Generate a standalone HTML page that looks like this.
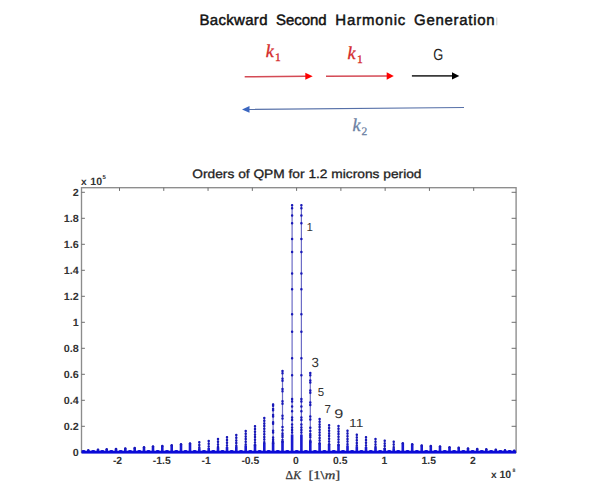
<!DOCTYPE html>
<html><head><meta charset="utf-8">
<style>
html,body{margin:0;padding:0;background:#fff;width:600px;height:491px;overflow:hidden;}
svg{display:block;}
text{font-family:"Liberation Sans",sans-serif;text-rendering:geometricPrecision;}
.sf,.sf text,text.sf{font-family:"Liberation Serif",serif;}
</style></head>
<body>
<svg width="600" height="491" viewBox="0 0 600 491">
<rect width="600" height="491" fill="#fff"/>
<!-- top diagram title -->
<g fill="#111" stroke="#111" stroke-width="0.45" font-size="15">
<text x="199.5" y="24.9" textLength="68">Backward</text>
<text x="276" y="24.9" textLength="50.5">Second</text>
<text x="335.3" y="24.9" textLength="70">Harmonic</text>
<text x="414.1" y="24.9" textLength="80.5">Generation</text>
</g>
<line x1="496.8" y1="17.5" x2="496.8" y2="25.3" stroke="#bbb" stroke-width="0.8"/>
<!-- k1 labels -->
<g fill="#d42a2a" stroke="#d42a2a" stroke-width="0.35">
<text class="sf" font-style="italic" font-size="18" x="265.8" y="57">k</text>
<text class="sf" font-size="11.5" x="275" y="60.8">1</text>
<text class="sf" font-style="italic" font-size="18" x="347.6" y="58.7">k</text>
<text class="sf" font-size="11.5" x="357" y="62.7">1</text>
</g>
<text x="433.2" y="59.5" font-size="16" fill="#222" textLength="10" lengthAdjust="spacingAndGlyphs">G</text>
<!-- arrows -->
<line x1="244.7" y1="76.8" x2="306" y2="76.2" stroke="#d44a55" stroke-width="1.5"/>
<polygon points="305.3,72.8 312.7,76.2 305.3,79.7" fill="#f00"/>
<line x1="326" y1="76.2" x2="387.3" y2="76" stroke="#d44a55" stroke-width="1.5"/>
<polygon points="386.7,72.3 393.8,76 386.7,79.7" fill="#f00"/>
<line x1="411.9" y1="75.9" x2="452.5" y2="75.9" stroke="#3a3a3a" stroke-width="1.6"/>
<polygon points="452,72.3 459.3,75.9 452,79.5" fill="#000"/>
<line x1="464" y1="107.5" x2="249" y2="109.4" stroke="#5670a8" stroke-width="1.1"/>
<polygon points="242,109.4 249.5,106 249.5,112.8" fill="#3a66c0"/>
<g fill="#6b7fa3" stroke="#6b7fa3" stroke-width="0.3">
<text class="sf" font-style="italic" font-size="18" x="352.4" y="131">k</text>
<text class="sf" font-size="11.5" x="361.6" y="135.2">2</text>
</g>
<!-- chart title -->
<text x="192.3" y="177.6" font-size="12.2" fill="#222" stroke="#222" stroke-width="0.3" textLength="229.2" lengthAdjust="spacingAndGlyphs">Orders of QPM for 1.2 microns period</text>
<!-- axes box -->
<g stroke="#8c8c8c" stroke-width="1.35" fill="none">
<rect x="81.5" y="187.7" width="434.6" height="264.6"/>
</g>
<path d="M81.5 452.30h3.4M516.2 452.30h-4.6M81.5 426.30h3.4M516.2 426.30h-4.6M81.5 400.30h3.4M516.2 400.30h-4.6M81.5 374.30h3.4M516.2 374.30h-4.6M81.5 348.30h3.4M516.2 348.30h-4.6M81.5 322.30h3.4M516.2 322.30h-4.6M81.5 296.30h3.4M516.2 296.30h-4.6M81.5 270.30h3.4M516.2 270.30h-4.6M81.5 244.30h3.4M516.2 244.30h-4.6M81.5 218.30h3.4M516.2 218.30h-4.6M81.5 192.30h3.4M516.2 192.30h-4.6M119.50 187.7v3.2M163.78 187.7v3.2M208.05 187.7v3.2M252.33 187.7v3.2M296.60 187.7v3.2M340.88 187.7v3.2M385.15 187.7v3.2M429.43 187.7v3.2M473.70 187.7v3.2" stroke="#6e6e6e" stroke-width="1" fill="none"/>
<path d="M88.3 449.2V451M98.0 448.7V451M106.7 448.3V451M116.0 448.0V451M125.3 447.5V451M134.7 447.0V451M144.0 446.3V451M153.0 445.5V451M162.3 445.0V451M171.7 444.2V451M181.0 443.3V451M190.0 442.5V451M199.3 441.2V451M208.7 440.0V451M218.0 438.0V451M227.0 436.3V451M236.3 434.0V451M245.7 430.0V451M255.0 425.3V451M264.3 417.0V451M273.1 403.5V451M282.5 370.0V451M292.1 204.6V451M301.4 204.6V451M310.3 372.0V451M319.6 418.0V451M329.1 424.3V451M338.5 425.0V451M347.5 429.8V451M356.8 433.8V451M366.0 436.3V451M375.5 438.0V451M384.7 439.7V451M393.7 440.8V451M402.8 442.2V451M412.2 443.3V451M421.7 444.5V451M430.8 445.0V451M440.0 445.5V451M449.5 446.3V451M458.7 446.7V451M468.0 447.5V451M477.2 448.0V451M486.3 448.3V451M495.8 448.7V451M505.0 449.2V451M514.2 449.7V451" stroke="#6c6cc6" stroke-width="1.2" fill="none"/>
<path d="M88.3 450.0V451M98.0 449.5V451M106.7 449.1V451M116.0 448.8V451M125.3 448.3V451M134.7 447.8V451M144.0 447.1V451M153.0 446.3V451M162.3 445.8V451M171.7 445.0V451M181.0 444.1V451M190.0 443.3V451M199.3 448.3V451M208.7 448.0V451M218.0 447.5V451M227.0 447.1V451M236.3 446.5V451M245.7 445.5V451M255.0 444.3V451M264.3 442.9V451M273.1 442.4V451M282.5 441.0V451M292.1 434.4V451M301.4 434.4V451M310.3 441.1V451M319.6 443.0V451M329.1 444.1V451M338.5 444.2V451M347.5 445.4V451M356.8 446.4V451M366.0 447.1V451M375.5 447.5V451M384.7 447.9V451M393.7 448.2V451M402.8 443.0V451M412.2 444.1V451M421.7 445.3V451M430.8 445.8V451M440.0 446.3V451M449.5 447.1V451M458.7 447.5V451M468.0 448.3V451M477.2 448.8V451M486.3 449.1V451M495.8 449.5V451M505.0 450.0V451M514.2 450.5V451" stroke="#1a1ad0" stroke-width="2.6" fill="none"/>
<path d="M88.3 450.2h0M98.0 449.7h0M106.7 449.3h0M116.0 449.0h0M125.3 448.5h0M134.7 448.0h0M144.0 447.3h0M153.0 446.5h0M162.3 446.0h0M171.7 445.2h0M181.0 444.3h0M190.0 443.5h0M199.3 442.2h0M199.3 444.9h0M199.3 447.6h0M208.7 441.0h0M208.7 443.7h0M208.7 446.4h0M218.0 439.0h0M218.0 441.7h0M218.0 444.4h0M218.0 447.1h0M227.0 437.3h0M227.0 440.0h0M227.0 442.7h0M227.0 445.4h0M236.3 435.0h0M236.3 437.7h0M236.3 440.4h0M236.3 443.1h0M236.3 445.8h0M245.7 431.0h0M245.7 433.7h0M245.7 436.4h0M245.7 439.1h0M245.7 441.8h0M245.7 444.5h0M255.0 426.3h0M255.0 429.0h0M255.0 431.7h0M255.0 434.4h0M255.0 437.1h0M255.0 439.8h0M255.0 442.5h0M255.0 445.2h0M264.3 418.0h0M264.3 420.7h0M264.3 423.4h0M264.3 426.1h0M264.3 428.8h0M264.3 431.5h0M264.3 434.2h0M264.3 436.9h0M264.3 439.6h0M264.3 442.3h0M273.1 404.5h0M273.1 405.8h0M273.1 409.0h0M273.1 410.2h0M273.1 415.0h0M273.1 416.4h0M273.1 422.3h0M273.1 423.8h0M273.1 430.8h0M273.1 432.5h0M273.1 437.5h0M273.1 439.4h0M273.1 441.3h0M273.1 442.3h0M273.1 443.2h0M282.5 371.0h0M282.5 373.3h0M282.5 378.7h0M282.5 380.8h0M282.5 388.9h0M282.5 391.3h0M282.5 401.3h0M282.5 403.8h0M282.5 415.7h0M282.5 418.6h0M282.5 427.1h0M282.5 430.3h0M282.5 433.6h0M282.5 435.2h0M282.5 436.9h0M282.5 440.1h0M282.5 441.7h0M292.1 205.2h0M292.1 208.2h0M292.1 215.6h0M292.1 223.3h0M292.1 239.0h0M292.1 251.9h0M292.1 273.5h0M292.1 289.3h0M292.1 314.3h0M292.1 331.8h0M292.1 358.2h0M292.1 375.3h0M292.1 399.0h0M292.1 401.5h0M292.1 406.5h0M292.1 411.2h0M292.1 417.6h0M292.1 420.1h0M292.1 424.6h0M292.1 427.5h0M292.1 430.0h0M292.1 432.5h0M301.4 205.2h0M301.4 208.2h0M301.4 215.6h0M301.4 223.3h0M301.4 239.0h0M301.4 251.9h0M301.4 273.5h0M301.4 289.3h0M301.4 314.3h0M301.4 331.8h0M301.4 358.2h0M301.4 375.3h0M301.4 399.0h0M301.4 401.5h0M301.4 406.5h0M301.4 411.2h0M301.4 417.6h0M301.4 420.1h0M301.4 424.6h0M301.4 427.5h0M301.4 430.0h0M301.4 432.5h0M310.3 373.0h0M310.3 375.2h0M310.3 380.5h0M310.3 382.5h0M310.3 390.4h0M310.3 392.8h0M310.3 402.6h0M310.3 405.0h0M310.3 416.6h0M310.3 419.5h0M310.3 427.7h0M310.3 430.9h0M310.3 434.1h0M310.3 435.6h0M310.3 437.2h0M310.3 440.4h0M310.3 442.0h0M319.6 419.0h0M319.6 421.7h0M319.6 424.4h0M319.6 427.1h0M319.6 429.8h0M319.6 432.5h0M319.6 435.2h0M319.6 437.9h0M319.6 440.6h0M319.6 443.3h0M329.1 425.3h0M329.1 428.0h0M329.1 430.7h0M329.1 433.4h0M329.1 436.1h0M329.1 438.8h0M329.1 441.5h0M329.1 444.2h0M338.5 426.0h0M338.5 428.7h0M338.5 431.4h0M338.5 434.1h0M338.5 436.8h0M338.5 439.5h0M338.5 442.2h0M338.5 444.9h0M347.5 430.8h0M347.5 433.5h0M347.5 436.2h0M347.5 438.9h0M347.5 441.6h0M347.5 444.3h0M356.8 434.8h0M356.8 437.5h0M356.8 440.2h0M356.8 442.9h0M356.8 445.6h0M366.0 437.3h0M366.0 440.0h0M366.0 442.7h0M366.0 445.4h0M375.5 439.0h0M375.5 441.7h0M375.5 444.4h0M375.5 447.1h0M384.7 440.7h0M384.7 443.4h0M384.7 446.1h0M384.7 448.8h0M393.7 441.8h0M393.7 444.5h0M393.7 447.2h0M402.8 443.2h0M412.2 444.3h0M421.7 445.5h0M430.8 446.0h0M440.0 446.5h0M449.5 447.3h0M458.7 447.7h0M468.0 448.5h0M477.2 449.0h0M486.3 449.3h0M495.8 449.7h0M505.0 450.2h0M514.2 450.7h0" stroke="#1818b8" stroke-width="2.5" stroke-linecap="round" fill="none"/>
<!-- baseline band -->
<rect x="81.5" y="450.7" width="434.6" height="2.9" fill="#0a0ad8"/>
<path d="M91.2 451.2a2 1.3 0 0 1 4 0zM100.3 451.2a2 1.3 0 0 1 4 0zM109.3 451.2a2 1.3 0 0 1 4 0zM118.7 451.2a2 1.3 0 0 1 4 0zM128.0 451.2a2 1.3 0 0 1 4 0zM137.3 451.2a2 1.3 0 0 1 4 0zM146.5 451.2a2 1.3 0 0 1 4 0zM155.7 451.2a2 1.3 0 0 1 4 0zM165.0 451.2a2 1.3 0 0 1 4 0zM174.3 451.2a2 1.3 0 0 1 4 0zM183.5 451.2a2 1.3 0 0 1 4 0zM192.7 451.2a2 1.3 0 0 1 4 0zM202.0 451.2a2 1.3 0 0 1 4 0zM211.3 451.2a2 1.3 0 0 1 4 0zM220.5 451.2a2 1.3 0 0 1 4 0zM229.7 451.2a2 1.3 0 0 1 4 0zM239.0 451.2a2 1.3 0 0 1 4 0zM248.3 451.2a2 1.3 0 0 1 4 0zM257.6 451.2a2 1.3 0 0 1 4 0zM266.7 451.2a2 1.3 0 0 1 4 0zM275.8 451.2a2 1.3 0 0 1 4 0zM285.3 451.2a2 1.3 0 0 1 4 0zM294.8 451.2a2 1.3 0 0 1 4 0zM303.9 451.2a2 1.3 0 0 1 4 0zM313.0 451.2a2 1.3 0 0 1 4 0zM322.4 451.2a2 1.3 0 0 1 4 0zM331.8 451.2a2 1.3 0 0 1 4 0zM341.0 451.2a2 1.3 0 0 1 4 0zM350.1 451.2a2 1.3 0 0 1 4 0zM359.4 451.2a2 1.3 0 0 1 4 0zM368.8 451.2a2 1.3 0 0 1 4 0zM378.1 451.2a2 1.3 0 0 1 4 0zM387.2 451.2a2 1.3 0 0 1 4 0zM396.2 451.2a2 1.3 0 0 1 4 0zM405.5 451.2a2 1.3 0 0 1 4 0zM414.9 451.2a2 1.3 0 0 1 4 0zM424.2 451.2a2 1.3 0 0 1 4 0zM433.4 451.2a2 1.3 0 0 1 4 0zM442.8 451.2a2 1.3 0 0 1 4 0zM452.1 451.2a2 1.3 0 0 1 4 0zM461.4 451.2a2 1.3 0 0 1 4 0zM470.6 451.2a2 1.3 0 0 1 4 0zM479.8 451.2a2 1.3 0 0 1 4 0zM489.1 451.2a2 1.3 0 0 1 4 0zM498.4 451.2a2 1.3 0 0 1 4 0zM507.6 451.2a2 1.3 0 0 1 4 0zM81.5 451.2a2 1.3 0 0 1 4 0z" fill="#0a0ad8"/>
<g font-size="10.4" font-weight="bold" fill="#333"><text transform="translate(78.8 455.80) scale(1.04 1)" text-anchor="end">0</text><text transform="translate(78.8 429.80) scale(1.04 1)" text-anchor="end">0.2</text><text transform="translate(78.8 403.80) scale(1.04 1)" text-anchor="end">0.4</text><text transform="translate(78.8 377.80) scale(1.04 1)" text-anchor="end">0.6</text><text transform="translate(78.8 351.80) scale(1.04 1)" text-anchor="end">0.8</text><text transform="translate(78.8 325.80) scale(1.04 1)" text-anchor="end">1</text><text transform="translate(78.8 299.80) scale(1.04 1)" text-anchor="end">1.2</text><text transform="translate(78.8 273.80) scale(1.04 1)" text-anchor="end">1.4</text><text transform="translate(78.8 247.80) scale(1.04 1)" text-anchor="end">1.6</text><text transform="translate(78.8 221.80) scale(1.04 1)" text-anchor="end">1.8</text><text transform="translate(78.8 195.80) scale(1.04 1)" text-anchor="end">2</text><text transform="translate(117.50 463.5) scale(1.0 1)" text-anchor="middle">-2</text><text transform="translate(161.78 463.5) scale(1.0 1)" text-anchor="middle">-1.5</text><text transform="translate(206.05 463.5) scale(1.0 1)" text-anchor="middle">-1</text><text transform="translate(250.33 463.5) scale(1.0 1)" text-anchor="middle">-0.5</text><text transform="translate(295.90 463.5) scale(1.0 1)" text-anchor="middle">0</text><text transform="translate(340.18 463.5) scale(1.0 1)" text-anchor="middle">0.5</text><text transform="translate(384.45 463.5) scale(1.0 1)" text-anchor="middle">1</text><text transform="translate(428.73 463.5) scale(1.0 1)" text-anchor="middle">1.5</text><text transform="translate(473.00 463.5) scale(1.0 1)" text-anchor="middle">2</text></g>
<g font-weight="bold" fill="#333">
<text x="80.9" y="184.7" font-size="10.2">x</text>
<text x="90.3" y="184.7" font-size="10.6">10</text>
<text x="102.4" y="178.5" font-size="6">5</text>
<text x="491" y="478.4" font-size="10.2">x</text>
<text x="499.4" y="478.4" font-size="10.6">10</text>
<text x="512.4" y="471.9" font-size="5.2">8</text>
</g>
<g class="sf" font-size="12" fill="#333" stroke="#333" stroke-width="0.25">
<text x="285.6" y="479" textLength="15.4" lengthAdjust="spacingAndGlyphs">&#916;<tspan font-style="italic">K</tspan></text>
<text x="308.4" y="479" textLength="31.8" lengthAdjust="spacingAndGlyphs">[1\<tspan font-style="italic">m</tspan>]</text>
</g>
<g fill="#333" font-size="11.5">
<text x="306.5" y="230.5">1</text>
<text x="311.6" y="366.9" font-size="13.3">3</text>
<text x="317.8" y="395.8">5</text>
<text x="324.4" y="413.4">7</text>
<text transform="translate(334.2 418.4) scale(1.3 1)" font-size="12.5">9</text>
<text transform="translate(349 426.8) scale(1.2 1)">11</text>
</g>

</svg>
</body></html>
